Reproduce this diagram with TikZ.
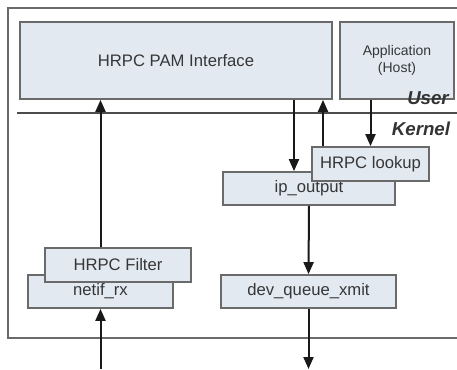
\documentclass[tikz,border=0pt]{standalone}
\usepackage{fontspec}
\setmainfont{Liberation Sans}
\usetikzlibrary{arrows.meta}
\usepackage{xcolor}
\definecolor{boxfill}{HTML}{E3E9F1}
\definecolor{boxline}{HTML}{6A6A6A}
\definecolor{boxtext}{HTML}{363636}

\tikzset{
    blk/.style 2 args={draw=boxline, line width=1.3pt, fill=boxfill, text=boxtext,
        inner sep=0pt, minimum width=#1, minimum height=#2,
        align=center, font=\fontsize{12.5}{14}\selectfont},
    flow/.style={line width=1.5pt, black!90, -{Triangle[length=9pt,width=7.5pt]}},
    layer/.style={font=\fontsize{14}{16}\selectfont\bfseries\itshape, text=black!80}
}

\begin{document}
\begin{tikzpicture}[x=0.75pt,y=-0.75pt]
        \useasboundingbox (0,0) rectangle (457,369);

        % outer frame and user/kernel border
        \draw[boxline, line width=1pt] (457,8) -- (8,8) -- (8,338) -- (457,338);
        \draw[black!70, line width=1.3pt] (17,113) -- (457,113);

        % columns for the arrows
        \coordinate (c1) at (294,0);
        \coordinate (c2) at (323,0);
        \coordinate (rxin) at (100.5,369);
        \coordinate (txout) at (308.5,369);

        \node[blk={234pt}{57.75pt}] (pam) at (176,60.5) {HRPC PAM Interface};
        \node[blk={85.5pt}{57.75pt}, font=\fontsize{10.5}{13}\selectfont] (app) at (397,60.5) {Application\\(Host)};

        \node[blk={129pt}{24.75pt}] (ipout) at (309,188.5) {ip\_output};
        \node[blk={87.75pt}{25.5pt}] (lookup) at (370.5,164) {HRPC lookup};
        \node[blk={131.25pt}{24.75pt}] (dev) at (308.5,291.5) {dev\_queue\_xmit};
        \node[blk={108.75pt}{24.75pt}] (netif) at (100.5,291.5) {netif\_rx};
        \node[blk={109.5pt}{25.5pt}] (filter) at (118,265) {HRPC Filter};

        \node[layer] (user) at (428,98) {User};
        \node[layer] (kernel) at (421,129) {Kernel};

        \draw[flow] (rxin) -- (netif.south);
        \draw[flow] (netif.north |- filter.north) -- (netif.north |- pam.south);
        \draw[flow] (c1 |- pam.south) -- (c1 |- ipout.north);
        \draw[flow] (c2 |- lookup.north) -- (c2 |- pam.south);
        \draw[flow] (lookup.north |- app.south) -- (lookup.north);
        \draw[flow] (ipout.south) -- (dev.north);
        \draw[flow] (dev.south) -- (txout);
    \end{tikzpicture}
\end{document}
